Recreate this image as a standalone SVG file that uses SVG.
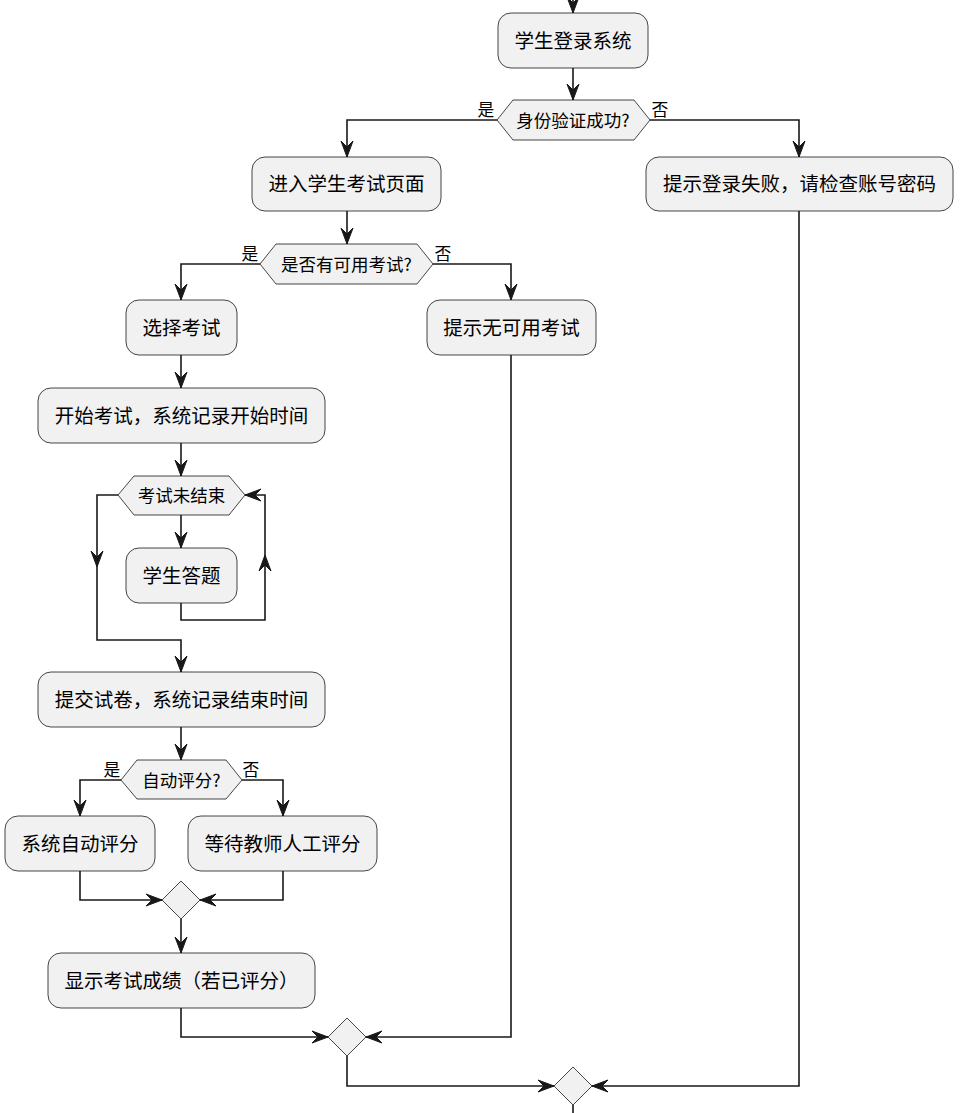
<svg xmlns="http://www.w3.org/2000/svg" width="964" height="1113" viewBox="0 0 964 1113">
<style>
.n{fill:#F1F1F1;stroke:#181818;stroke-width:0.8}
.t{font-family:"Noto Sans CJK SC","Liberation Sans",sans-serif;font-size:19.5px;fill:#000;text-anchor:middle}
.d{font-family:"Noto Sans CJK SC","Liberation Sans",sans-serif;font-size:17.5px;fill:#000;text-anchor:middle}
.l{font-family:"Noto Sans CJK SC","Liberation Sans",sans-serif;font-size:16.8px;fill:#000;text-anchor:middle}
.c{fill:none;stroke:#181818;stroke-width:1.6}
.a{fill:#181818;stroke:#181818;stroke-width:1}
</style>
<defs>
<path id="ah" d="M0,0 L-6,-16 L0,-10 L6,-16 Z"/>
</defs>
<rect width="964" height="1113" fill="#FFFFFF"/>
<g id="connectors">
<path class="c" d="M573,0 V13"/>
<path class="c" d="M573,68 V100"/>
<path class="c" d="M497,120 H347 V157"/>
<path class="c" d="M650,120 H799 V157"/>
<path class="c" d="M347,211 V244"/>
<path class="c" d="M260,264 H181 V300"/>
<path class="c" d="M433,264 H511 V300"/>
<path class="c" d="M181,355 V388"/>
<path class="c" d="M181,443 V476"/>
<path class="c" d="M181,515 V548"/>
<path class="c" d="M181,603 V620 H265 V495 H245"/>
<path class="c" d="M118,495 H97 V640 H181 V672"/>
<path class="c" d="M181,727 V760"/>
<path class="c" d="M121,780 H80 V816"/>
<path class="c" d="M242,780 H283 V816"/>
<path class="c" d="M80,871 V900 H162"/>
<path class="c" d="M283,871 V900 H200"/>
<path class="c" d="M181,919 V953"/>
<path class="c" d="M181,1008 V1037 H328"/>
<path class="c" d="M511,355 V1037 H366"/>
<path class="c" d="M347,1056 V1086 H554"/>
<path class="c" d="M799,211 V1086 H592"/>
<path class="c" d="M573,1105 V1113"/>
<g class="a">
<use href="#ah" transform="translate(573,13)"/>
<use href="#ah" transform="translate(573,100)"/>
<use href="#ah" transform="translate(347,157)"/>
<use href="#ah" transform="translate(799,157)"/>
<use href="#ah" transform="translate(347,244)"/>
<use href="#ah" transform="translate(181,300)"/>
<use href="#ah" transform="translate(511,300)"/>
<use href="#ah" transform="translate(181,388)"/>
<use href="#ah" transform="translate(181,476)"/>
<use href="#ah" transform="translate(181,548)"/>
<use href="#ah" transform="translate(265,555) rotate(180)"/>
<use href="#ah" transform="translate(245,495) rotate(90)"/>
<use href="#ah" transform="translate(97,567)"/>
<use href="#ah" transform="translate(181,672)"/>
<use href="#ah" transform="translate(181,760)"/>
<use href="#ah" transform="translate(80,816)"/>
<use href="#ah" transform="translate(283,816)"/>
<use href="#ah" transform="translate(162,900) rotate(-90)"/>
<use href="#ah" transform="translate(200,900) rotate(90)"/>
<use href="#ah" transform="translate(181,953)"/>
<use href="#ah" transform="translate(328,1037) rotate(-90)"/>
<use href="#ah" transform="translate(366,1037) rotate(90)"/>
<use href="#ah" transform="translate(554,1086) rotate(-90)"/>
<use href="#ah" transform="translate(592,1086) rotate(90)"/>
</g>
<text class="l" x="486" y="116">是</text>
<text class="l" x="660" y="116">否</text>
<text class="l" x="250" y="260">是</text>
<text class="l" x="443" y="260">否</text>
<text class="l" x="112" y="776">是</text>
<text class="l" x="251" y="776">否</text>
</g>
<g id="n1"><rect class="n" x="498" y="13" width="150" height="55" rx="13" ry="13"/><text class="t" x="573" y="47.5">学生登录系统</text></g>
<g id="d1"><polygon class="n" points="497,120 513,100 634,100 650,120 634,140 513,140"/><text class="d" x="573" y="126.5">身份验证成功?</text></g>
<g id="n2"><rect class="n" x="252" y="157" width="189" height="54" rx="13" ry="13"/><text class="t" x="346.5" y="191">进入学生考试页面</text></g>
<g id="n3"><rect class="n" x="646" y="157" width="307" height="54" rx="13" ry="13"/><text class="t" x="799.5" y="191">提示登录失败，请检查账号密码</text></g>
<g id="d2"><polygon class="n" points="260,264 276,244 417,244 433,264 417,284 276,284"/><text class="d" x="346.5" y="270.5">是否有可用考试?</text></g>
<g id="n4"><rect class="n" x="126" y="300" width="111" height="55" rx="13" ry="13"/><text class="t" x="181.5" y="334.5">选择考试</text></g>
<g id="n5"><rect class="n" x="427" y="300" width="169" height="55" rx="13" ry="13"/><text class="t" x="511.5" y="334.5">提示无可用考试</text></g>
<g id="n6"><rect class="n" x="38" y="388" width="287" height="55" rx="13" ry="13"/><text class="t" x="181.5" y="422.5">开始考试，系统记录开始时间</text></g>
<g id="d3"><polygon class="n" points="118,495 134,476 229,476 245,495 229,515 134,515"/><text class="d" x="181.5" y="501.5">考试未结束</text></g>
<g id="n7"><rect class="n" x="126" y="548" width="111" height="55" rx="13" ry="13"/><text class="t" x="181.5" y="582.5">学生答题</text></g>
<g id="n8"><rect class="n" x="38" y="672" width="287" height="55" rx="13" ry="13"/><text class="t" x="181.5" y="706.5">提交试卷，系统记录结束时间</text></g>
<g id="d4"><polygon class="n" points="121,780 137,760 226,760 242,780 226,799 137,799"/><text class="d" x="181.5" y="786.5">自动评分?</text></g>
<g id="n9"><rect class="n" x="5" y="816" width="150" height="55" rx="13" ry="13"/><text class="t" x="80" y="850.5">系统自动评分</text></g>
<g id="n10"><rect class="n" x="188" y="816" width="189" height="55" rx="13" ry="13"/><text class="t" x="282.5" y="850.5">等待教师人工评分</text></g>
<g id="m1"><polygon class="n" points="181,881 200,900 181,919 162,900"/></g>
<g id="n11"><rect class="n" x="48" y="953" width="267" height="55" rx="13" ry="13"/><text class="t" x="181.5" y="987.5">显示考试成绩（若已评分）</text></g>
<g id="m2"><polygon class="n" points="347,1018 366,1037 347,1056 328,1037"/></g>
<g id="m3"><polygon class="n" points="573,1067 592,1086 573,1105 554,1086"/></g>
</svg>
